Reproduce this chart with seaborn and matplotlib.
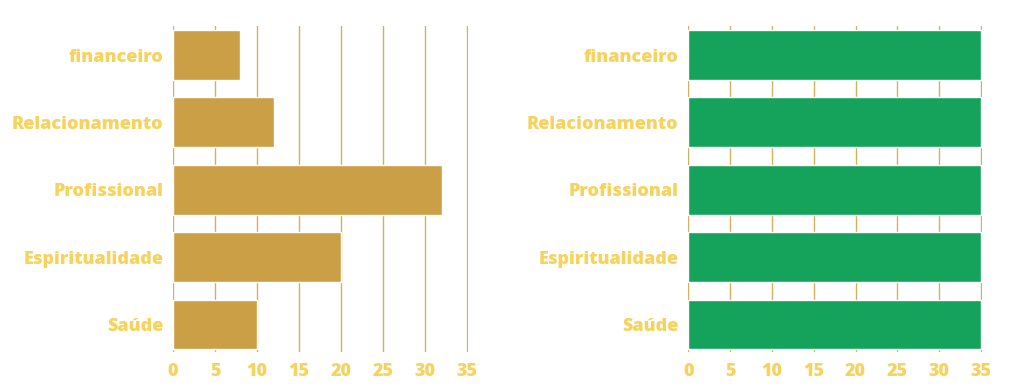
import matplotlib
matplotlib.use('Agg')
import matplotlib.pyplot as plt
import seaborn as sns
import pandas as pd

# Values
categories = ['financeiro', 'Relacionamento', 'Profissional', 'Espiritualidade', 'Saúde']
left_values = [8, 12, 32, 20, 10]
right_values = [35, 35, 35, 35, 35]
x_ticks = [0, 5, 10, 15, 20, 25, 30, 35]

sns.set_style('white')
plt.rcParams['font.family'] = ['Open Sans', 'DejaVu Sans']

label_color = '#F7D35E'
grid_color = '#D8AE5E'

fig = plt.figure(figsize=(10.24, 3.89), dpi=100)
ax1 = fig.add_axes([0.169, 0.095, 0.288, 0.838])
ax2 = fig.add_axes([0.672, 0.095, 0.287, 0.838])

panels = [(ax1, left_values, '#CB9F45'), (ax2, right_values, '#15A35C')]

for ax, values, color in panels:
    df = pd.DataFrame({'area': categories, 'valor': values})
    sns.barplot(data=df, x='valor', y='area', color=color, saturation=1,
                width=0.74, ax=ax, zorder=2)
    ax.set_xlim(0, 35.1)
    ax.set_ylim(4.41, -0.43)
    ax.set_xticks(x_ticks)
    ax.grid(axis='x', color=grid_color, linewidth=1, zorder=0)
    ax.set_axisbelow(True)
    for s in ax.spines.values():
        s.set_visible(False)
    ax.set_xlabel('')
    ax.set_ylabel('')
    ax.tick_params(axis='both', length=0, colors=label_color, labelsize=13)
    ax.tick_params(axis='y', pad=7)
    ax.tick_params(axis='x', pad=8)
    for lab in ax.get_xticklabels() + ax.get_yticklabels():
        lab.set_fontweight(800)
        lab.set_color(label_color)

fig.savefig('out.png', dpi=100, facecolor='white')
